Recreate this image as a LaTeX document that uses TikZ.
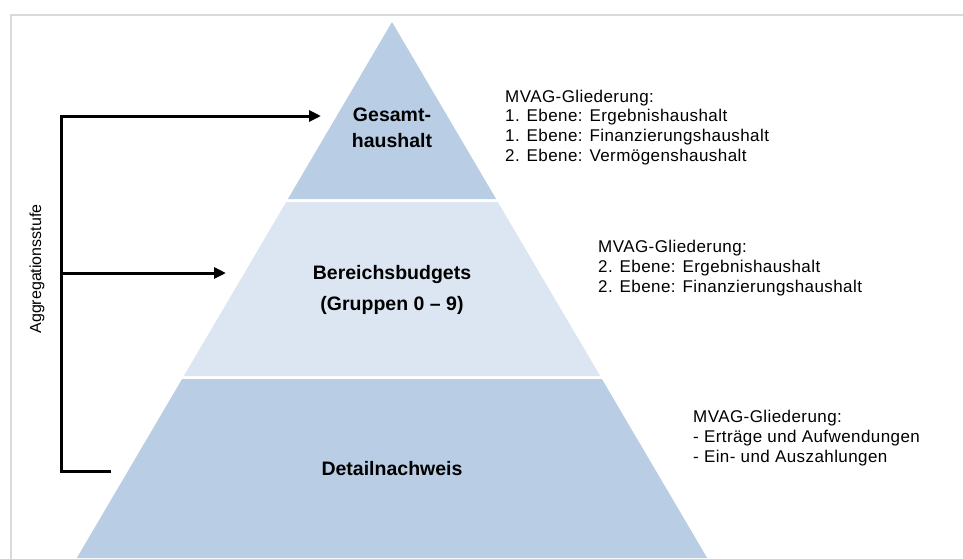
\documentclass[tikz,border=0pt]{standalone}
\usepackage{fontspec}
\setmainfont{Liberation Sans}
\newfontfamily\spaced{Liberation Sans}[LetterSpace=2.5]
\usetikzlibrary{arrows.meta}
\definecolor{tierdark}{HTML}{B9CDE5}
\definecolor{tierlight}{HTML}{DCE6F2}
\definecolor{framegray}{HTML}{D9D9D9}
\begin{document}
\begin{tikzpicture}[x=1pt,y=-1pt,
  tiertitle/.style={font=\fontsize{19.5}{23}\selectfont\bfseries, inner sep=0pt, anchor=base},
  note/.style={font=\spaced\fontsize{17}{19}\selectfont, inner sep=0pt, anchor=base west},
  vlabel/.style={font=\fontsize{16}{18}\selectfont, inner sep=0pt, anchor=base, rotate=90},
  bracket/.style={line width=3pt, line join=miter},
  conn/.style={bracket, -{Triangle[length=12pt,width=11pt]}},
  ]
\useasboundingbox (0,0) rectangle (963,558);
\fill[white] (0,0) rectangle (963,558);
\draw[framegray, line width=2pt] (10.5,560) -- (10.5,15) -- (965,15);

% pyramid tiers
\fill[tierdark] (392,22) -- (496.1,199) -- (287.9,199) -- cycle;
\fill[tierlight] (286.2,202) -- (497.8,202) -- (600.2,376) -- (183.8,376) -- cycle;
\fill[tierdark] (182.1,379) -- (601.9,379) -- (707.2,558) -- (76.8,558) -- cycle;

% tier titles
\node[tiertitle] (gesA) at (392,121) {Gesamt-};
\node[tiertitle] (gesB) at (392,147) {haushalt};
\node[tiertitle] (berA) at (392,279) {Bereichsbudgets};
\node[tiertitle] (berB) at (392,310) {(Gruppen 0 – 9)};
\node[tiertitle] (det) at (392,475) {Detailnachweis};

% notes
\node[note] (n1a) at (505,102) {MVAG-Gliederung:};
\node[note] (n1b) at (505,121.7) {1. Ebene: Ergebnishaushalt};
\node[note] (n1c) at (505,141.4) {1. Ebene: Finanzierungshaushalt};
\node[note] (n1d) at (505,161) {2. Ebene: Vermögenshaushalt};

\node[note] (n2a) at (598,252.5) {MVAG-Gliederung:};
\node[note] (n2b) at (598,272) {2. Ebene: Ergebnishaushalt};
\node[note] (n2c) at (598,292) {2. Ebene: Finanzierungshaushalt};

\node[note] (n3a) at (693,422.5) {MVAG-Gliederung:};
\node[note] (n3b) at (693,442.5) {- Erträge und Aufwendungen};
\node[note] (n3c) at (693,462.5) {- Ein- und Auszahlungen};

% vertical label
\node[vlabel] (agg) at (41,269) {Aggregationsstufe};

% bracket and arrows
\coordinate (cTop) at (61,116);
\coordinate (tipTop) at (321,116);
\coordinate (cMid) at (61,273);
\coordinate (tipMid) at (226,273);
\coordinate (cBot) at (61,471);
\coordinate (endBot) at (111,471);
\draw[conn] (endBot) -- (cBot) -- (cTop) -- (tipTop);
\draw[conn] (cMid) -- (tipMid);
\end{tikzpicture}
\end{document}
